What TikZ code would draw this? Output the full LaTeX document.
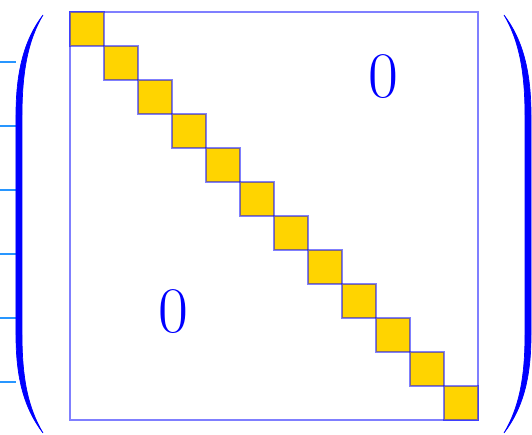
\documentclass[tikz,border=0pt]{standalone}
\definecolor{blockgold}{RGB}{255,212,0}
\definecolor{parenblue}{RGB}{0,0,255}
\definecolor{tickblue}{RGB}{40,150,255}
\newcommand{\bracketpath}{(43,15) .. controls (24,40) and (16,72) .. (16,115) -- (16,335)
  .. controls (16,378) and (24,408) .. (43,433)
  .. controls (28,408) and (22,378) .. (22,335) -- (22,115)
  .. controls (22,72) and (28,40) .. (43,15) -- cycle}

\begin{document}
\begin{tikzpicture}[x=0.02cm, y=-0.02cm]
    \useasboundingbox (0,0) rectangle (532,435);

    % Ticks on the left
    \foreach \y in {62,126,...,382}
        \draw[tickblue, line width=0.8pt] (0,\y) -- (16,\y);

    % Matrix frame
    \draw[parenblue, draw opacity=0.5, line width=1.2pt] (70,12) rectangle (478,420);

    % Diagonal blocks
    \foreach \i in {0,...,11}
        \draw[fill=blockgold, draw=parenblue, draw opacity=0.5, line width=1.2pt]
            ({70+34*\i},{12+34*\i}) rectangle ++(34,34);

    % Zero entries
    \node[parenblue, font=\fontsize{37}{40}\selectfont] at (383,77) {0};
    \node[parenblue, font=\fontsize{37}{40}\selectfont] at (173,312) {0};

    % Parentheses
    \filldraw[parenblue, line width=0.4pt] \bracketpath;
    \begin{scope}[shift={(547,0)}, xscale=-1]
        \filldraw[parenblue, line width=0.4pt] \bracketpath;
    \end{scope}
\end{tikzpicture}
\end{document}
